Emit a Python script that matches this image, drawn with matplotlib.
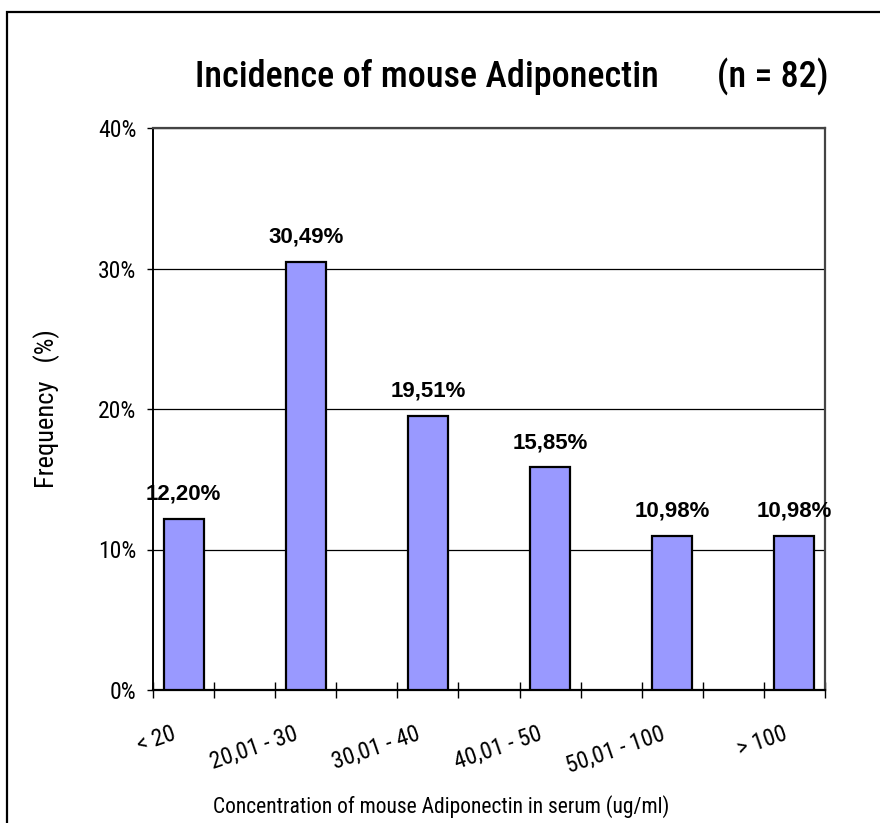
import numpy as np
import matplotlib.pyplot as plt
from matplotlib.patches import Rectangle

# categories (blank slots between the bars, as in the original sheet)
categories = ["< 20", "", "20,01 - 30", "", "30,01 - 40", "", "40,01 - 50", "",
              "50,01 - 100", "", "> 100"]
freq = [12.20, np.nan, 30.49, np.nan, 19.51, np.nan, 15.85, np.nan,
        10.98, np.nan, 10.98]
value_labels = ["12,20%", "", "30,49%", "", "19,51%", "", "15,85%", "",
                "10,98%", "", "10,98%"]
yticks = [0, 10, 20, 30, 40]

narrow = ["Roboto Condensed", "DejaVu Sans"]
plt.rcParams["font.family"] = narrow

W, H = 880, 823
fig = plt.figure(figsize=(W / 100, H / 100), dpi=100)
ax = fig.add_axes([153 / W, 1 - 690 / H, (825 - 153) / W, (690 - 128) / H])

x = np.arange(len(categories))
ax.bar(x, freq, width=0.655, color="#9999FF", edgecolor="black", linewidth=1.6, zorder=3)

# data labels
for xi, v, lab in zip(x, freq, value_labels):
    if lab:
        ax.text(xi, v + 1.0, lab, ha="center", va="bottom", fontsize=16,
                fontweight="bold", family=["Liberation Sans", "DejaVu Sans"], zorder=4)

ax.set_xlim(-0.5, len(categories) - 0.5)
ax.set_ylim(0, 40)
ax.set_yticks(yticks)
ax.set_yticklabels([f"{t}%" for t in yticks], fontsize=17)
ax.yaxis.grid(True, color="black", linewidth=0.9, zorder=0)
ax.tick_params(axis="y", direction="out", length=4, width=1, pad=8)

# tick marks at category boundaries, labels under the bars
ax.set_xticks(np.arange(-0.5, len(categories)), minor=True)
ax.tick_params(axis="x", which="minor", direction="inout", length=12, width=1)
ax.set_xticks(x)
ax.set_xticklabels([])
ax.tick_params(axis="x", which="major", length=0)
for xi, lab in zip(x, categories):
    if lab:
        ax.annotate(lab, xy=(xi, 0), xycoords="data", xytext=(-6, -31),
                    textcoords="offset points", ha="right", va="center",
                    rotation=19, rotation_mode="anchor", fontsize=17)

for s in ["top", "right"]:
    ax.spines[s].set_color("#444444")
    ax.spines[s].set_linewidth(1.6)
ax.spines["left"].set_linewidth(1.4)
ax.spines["bottom"].set_linewidth(1.6)

ax.set_ylabel("Frequency   (%)", fontsize=19, labelpad=27)
fig.text(441 / W, 1 - 813 / H, "Concentration of mouse Adiponectin in serum (ug/ml)",
         ha="center", va="baseline", fontsize=15.5)

# title
fig.text(195 / W, 1 - 87 / H, "Incidence of mouse Adiponectin", ha="left", va="baseline",
         fontsize=26, fontweight="medium")
fig.text(828 / W, 1 - 87 / H, "(n = 82)", ha="right", va="baseline",
         fontsize=26, fontweight="medium")

# outer chart frame
fig.patches.append(Rectangle((7 / W, -0.05), 1.0, (H - 12) / H + 0.05,
                             transform=fig.transFigure, fill=False,
                             edgecolor="black", linewidth=1.6))

fig.savefig("out.png", dpi=100)
